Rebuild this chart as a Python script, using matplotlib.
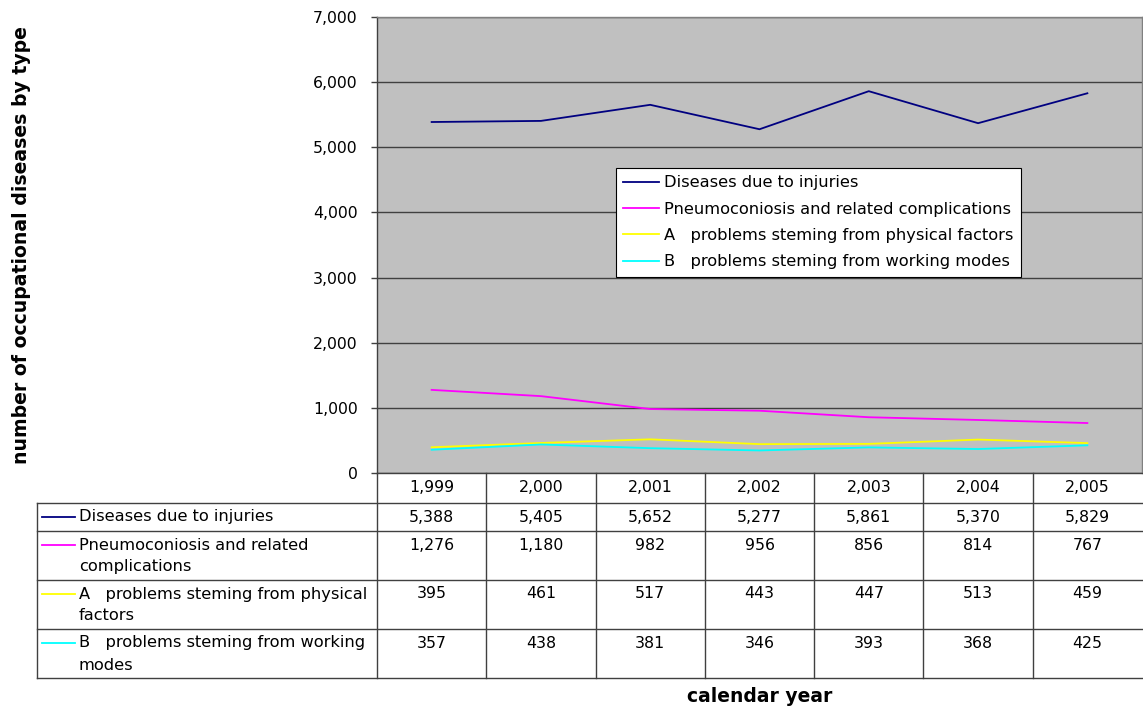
import matplotlib
matplotlib.use("Agg")
import matplotlib.pyplot as plt
from matplotlib.lines import Line2D

# ---- data ----
years = [1999, 2000, 2001, 2002, 2003, 2004, 2005]
series_names = [
    "Diseases due to injuries",
    "Pneumoconiosis and related complications",
    "A   problems steming from physical factors",
    "B   problems steming from working modes",
]
table_labels = [
    ["Diseases due to injuries"],
    ["Pneumoconiosis and related", "complications"],
    ["A   problems steming from physical", "factors"],
    ["B   problems steming from working", "modes"],
]
injuries = [5388, 5405, 5652, 5277, 5861, 5370, 5829]
pneumoconiosis = [1276, 1180, 982, 956, 856, 814, 767]
physical = [395, 461, 517, 443, 447, 513, 459]
working = [357, 438, 381, 346, 393, 368, 425]
series = [injuries, pneumoconiosis, physical, working]
colors = ["#000080", "#FF00FF", "#FFFF00", "#00FFFF"]
y_ticks = [0, 1000, 2000, 3000, 4000, 5000, 6000, 7000]

W, H = 1143, 714
FONT = "DejaVu Sans"
FS = 11.3        # numbers
FS_TXT = 11.7    # words

fig = plt.figure(figsize=(W / 100, H / 100), dpi=100)
fig.patch.set_facecolor("white")


def fx(x):
    return x / W


def fy(y):
    return 1 - y / H


# ---- plot area ----
left, right, top, bottom = 377, 1142, 17, 473
ax = fig.add_axes([fx(left), fy(bottom), (right - left) / W, (bottom - top) / H])
ax.set_facecolor("#C0C0C0")
ax.set_xlim(-0.5, len(years) - 0.5)
ax.set_ylim(0, 7000)
ax.set_yticks(y_ticks)
ax.set_yticklabels([f"{v:,}" for v in y_ticks], fontsize=FS, family=FONT)
ax.set_xticks([])
ax.tick_params(axis="y", direction="out", length=4, width=1, color="#404040", pad=10)
ax.grid(axis="y", color="#404040", linewidth=1)
ax.set_axisbelow(True)
for side, sp in ax.spines.items():
    sp.set_color("#808080")
    sp.set_linewidth(1)
ax.spines["left"].set_color("#404040")
ax.spines["bottom"].set_color("#404040")

x = list(range(len(years)))
for name, vals, c in zip(series_names, series, colors):
    ax.plot(x, vals, color=c, linewidth=1.3, label=name)

leg = ax.legend(
    loc="upper left",
    bbox_to_anchor=((616 - left) / (right - left), (bottom - 168) / (bottom - top)),
    frameon=True,
    fancybox=False,
    framealpha=1,
    edgecolor="black",
    prop={"family": FONT, "size": FS_TXT},
    handlelength=2.2,
    handletextpad=0.3,
    borderpad=0.45,
    labelspacing=0.7,
    borderaxespad=0,
)
leg.get_frame().set_linewidth(0.8)

# ---- data table ----
col_w = (right - left) / len(years)
row_edges = [473, 503, 531, 580, 629, 678]
tab_left = 37
line_kw = dict(color="#404040", linewidth=1, transform=fig.transFigure)


def hline(y, x0, x1):
    fig.add_artist(Line2D([fx(x0), fx(x1)], [fy(y), fy(y)], **line_kw))


def vline(x0, y0, y1):
    fig.add_artist(Line2D([fx(x0), fx(x0)], [fy(y0), fy(y1)], **line_kw))


for y in row_edges[1:]:
    hline(y, tab_left, W)
vline(tab_left, row_edges[1], row_edges[-1])
for i in range(len(years)):
    vline(left + i * col_w, row_edges[0], row_edges[-1])

num_kw = dict(fontsize=FS, family=FONT, color="black", transform=fig.transFigure)
txt_kw = dict(fontsize=FS_TXT, family=FONT, color="black", transform=fig.transFigure)

# year header
for i, yr in enumerate(years):
    fig.text(fx(left + (i + 0.5) * col_w), fy(488), f"{yr:,}", ha="center", va="center", **num_kw)

# rows
line_h = 22
for r, (labels, vals, c) in enumerate(zip(table_labels, series, colors)):
    y_first = row_edges[r + 1] + 14
    fig.add_artist(Line2D([fx(42), fx(75)], [fy(y_first), fy(y_first)], color=c,
                          linewidth=1.3, transform=fig.transFigure))
    for k, lab in enumerate(labels):
        fig.text(fx(79), fy(y_first + k * line_h), lab, ha="left", va="center", **txt_kw)
    for i, v in enumerate(vals):
        fig.text(fx(left + (i + 0.5) * col_w), fy(y_first), f"{v:,}",
                 ha="center", va="center", **num_kw)

# ---- axis titles ----
fig.text(fx(22), fy(245), "number of occupational diseases by type", rotation=90,
         ha="center", va="center", fontsize=13.6, fontweight="bold", family=FONT)
fig.text(fx(760), fy(697), "calendar year", ha="center", va="center",
         fontsize=13.5, fontweight="bold", family=FONT)

fig.savefig("out.png", dpi=100)
